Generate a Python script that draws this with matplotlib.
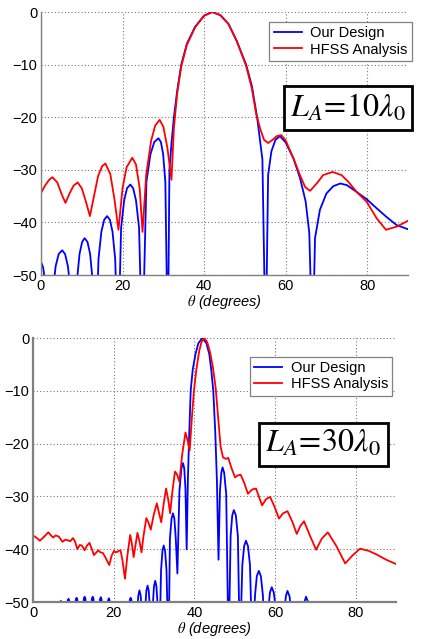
import numpy as np
import matplotlib
matplotlib.use('Agg')
import matplotlib.pyplot as plt

plt.rcParams['font.family'] = ['Liberation Sans', 'DejaVu Sans']
plt.rcParams['mathtext.fontset'] = 'stix'

# L_A = 10 lambda_0 : (theta in degrees, dB)
design_10 = [(0, -47.5), (0.5, -48.5), (1.0, -51), (2.1, -65),
             (2.85, -53.6), (3.6, -48.3), (4.35, -46), (5.2, -45.3), (5.9, -46), (6.6, -48.3), (7.35, -53.6), (8.1, -65),
             (8.8, -51.3), (9.45, -46), (10.1, -43.7), (10.7, -43), (11.4, -43.7), (12.05, -46), (12.7, -51.3), (13.4, -65),
             (14.1, -47), (14.8, -41.8), (15.5, -39.5), (16.2, -38.8), (16.9, -39.5), (17.55, -41.8), (18.2, -47), (18.9, -65),
             (19.65, -41), (20.4, -35.8), (21.1, -33.5), (21.9, -32.8), (22.6, -33.5), (23.3, -35.8), (24.05, -41), (24.85, -65),
             (25.85, -32.3), (26.85, -27), (27.8, -24.7), (28.8, -24), (29.4, -24.7), (29.95, -27), (30.5, -32.3), (31.1, -65),
             (31.5, -30), (32.0, -25), (32.6, -20), (33.4, -15), (34.4, -10), (35.8, -6), (37.8, -2.8), (40.0, -0.7),
             (42.0, 0), (44.0, -0.6), (46.0, -2.3), (48.0, -5.5), (50.3, -10), (51.7, -14), (53.0, -20), (54.3, -28), (55.1, -65),
             (55.7, -31), (56.5, -26.5), (57.5, -24.3), (58.6, -23.6), (60.0, -24.8), (61.9, -27.8), (63.5, -31.5),
             (64.9, -36), (65.8, -42), (66.6, -65),
             (67.2, -43), (68.4, -37.6), (70.0, -34.5), (71.7, -33.1), (73.4, -32.6), (75.0, -32.9), (77.4, -34.2),
             (79.9, -35.6), (82.3, -37.3), (84.8, -39), (87.2, -40.5), (90.0, -41.3)]

hfss_10 = [(0, -34.4), (1, -33), (2, -31.9), (2.8, -31.4), (4, -32.4), (5, -34.5), (6, -36.3), (7, -34.5),
           (8, -33), (9, -32.4), (10, -33.5), (11, -36), (12, -38.8), (13, -35), (14, -31.2), (15, -29.3),
           (15.8, -28.8), (17, -30.8), (18, -35.5), (19, -41.4), (20, -33.5), (21, -29.5), (22.4, -27.7),
           (23.3, -29), (24.2, -33.5), (24.9, -41.8), (25.8, -31), (27, -24.5), (28, -21.6), (29.1, -20.5),
           (30, -21.8), (31, -25.8), (32, -31.9), (32.6, -22), (33.4, -15.5), (34.4, -10.3), (35.8, -6.2),
           (37.8, -2.9), (40, -0.7), (42, 0), (44, -0.6), (46, -2.3), (48, -5.5), (50.3, -10.2), (51.7, -14.5),
           (52.8, -19.5), (53.8, -22.3), (54.7, -24.3), (55.7, -24.9), (56.8, -24.3), (57.8, -23.6), (58.9, -23.4),
           (60, -24.4), (61.9, -27.8), (63.5, -31), (64.8, -33.3), (66, -34), (67.6, -32.6), (69.2, -31),
           (71.5, -30.4), (73.7, -31), (75.4, -32.3), (77.4, -34.2), (79.9, -36.1), (82.3, -39.2), (84.6, -41.4),
           (87.2, -40.8), (90, -39.7)]

# L_A = 30 lambda_0
design_30 = [(0, -60), (6.45, -53), (6.7, -50.2), (6.9, -49.8), (7.1, -50.2), (7.35, -53), (7.85, -60),
             (8.35, -53), (8.6, -49.8), (8.8, -49.4), (9.0, -49.8), (9.25, -53), (9.8, -60),
             (10.35, -53), (10.6, -49.6), (10.8, -49.2), (11.0, -49.6), (11.25, -53), (11.8, -60),
             (12.35, -53), (12.6, -49.4), (12.8, -49.0), (13.0, -49.4), (13.25, -53), (13.8, -60),
             (14.35, -53), (14.6, -49.4), (14.8, -49.0), (15.0, -49.4), (15.25, -53), (15.8, -60),
             (16.35, -53), (16.6, -49.5), (16.8, -49.1), (17.0, -49.5), (17.25, -53), (17.8, -60),
             (18.35, -53), (18.6, -49.7), (18.8, -49.3), (19.0, -49.7), (19.25, -53), (19.8, -60),
             (23.2, -60), (23.75, -53), (24.0, -49.6), (24.2, -49.2), (24.4, -49.6), (24.65, -53), (25.3, -60),
             (25.8, -52.4), (26.1, -48.8), (26.4, -47.8), (26.7, -48.8), (27.0, -52.4), (27.4, -60),
             (27.8, -51.5), (28.1, -47.9), (28.4, -46.9), (28.7, -47.9), (29.0, -51.5), (29.35, -60),
             (29.7, -50.6), (30.0, -47), (30.3, -46), (30.6, -47), (30.9, -50.6), (31.3, -60),
             (31.75, -44), (32.1, -40.3), (32.4, -39.3), (32.75, -40.3), (33.1, -44), (33.6, -60),
             (33.95, -38), (34.35, -34.2), (34.7, -33.2), (35.05, -34.2), (35.4, -38), (35.8, -44.6),
             (36.3, -29), (36.8, -24.7), (37.2, -23.7), (37.5, -24.7), (37.8, -28.5), (38.1, -40),
             (38.4, -27), (38.7, -19), (39.1, -10), (39.6, -6), (40.3, -3), (41.0, -1), (42.0, 0), (43.0, -1),
             (43.7, -3), (44.2, -6), (44.7, -10), (45.2, -18), (45.6, -27), (46.0, -42),
             (46.35, -29), (46.7, -25.5), (47.0, -24.5), (47.4, -25.5), (47.9, -29.5), (48.5, -60),
             (49.0, -37.5), (49.4, -33.6), (49.8, -32.6), (50.3, -33.6), (50.8, -37.5), (51.3, -60),
             (51.9, -43), (52.35, -39.4), (52.8, -38.4), (53.3, -39.4), (53.8, -43), (54.4, -60),
             (55.05, -48.7), (55.5, -45.1), (56.0, -44.1), (56.5, -45.1), (57.0, -48.7), (57.6, -60),
             (58.3, -51.8), (58.75, -48.2), (59.2, -47.2), (59.7, -48.2), (60.3, -51.8), (61.1, -60),
             (62.2, -52.5), (62.7, -48.9), (63.1, -47.9), (63.6, -48.9), (64.2, -52.5), (65.3, -60),
             (66.8, -53.6), (67.3, -50), (67.7, -49), (68.2, -50), (68.8, -53.6), (70, -60), (90, -60)]

hfss_30 = [(0, -37.4), (0.8, -37.8), (1.7, -38.4), (2.8, -37.6), (3.8, -36.8), (4.6, -37.5), (5.0, -37.8),
           (5.6, -37.4), (6.4, -37.6), (7.3, -38.6), (8.0, -38.2), (8.6, -38.3), (9.2, -38.5), (9.9, -37.9),
           (10.4, -38.5), (11.0, -40), (11.6, -39.2), (12.1, -39.3), (12.8, -40.2), (13.4, -39.3), (14.0, -38.8),
           (14.5, -39.8), (15.1, -41.1), (15.6, -40.7), (16.2, -40.2), (16.7, -40.6), (17.3, -40.7), (17.9, -41.5),
           (18.9, -43), (19.5, -41.2), (20.1, -40.3), (20.5, -40.6), (20.9, -40.5), (21.3, -40.3), (21.7, -40.2),
           (22.2, -42.2), (22.8, -45.6), (23.4, -41.2), (24.1, -37.3), (24.5, -38.9), (24.95, -41.5), (25.4, -39.3),
           (25.9, -36.9), (26.4, -38.5), (26.9, -40.6), (27.4, -37.5), (28.1, -34.1), (28.6, -34.9), (29.2, -36.3),
           (29.9, -33.6), (30.7, -31.3), (31.2, -33), (31.8, -34.9), (32.4, -31.4), (33.0, -28.5), (33.5, -30.5),
           (34.0, -33.2), (34.6, -28.8), (35.2, -25.3), (35.7, -25.8), (36.3, -27.2), (37.0, -22), (37.8, -17.9),
           (38.3, -19.3), (38.85, -21.3), (39.4, -15), (39.9, -10), (40.5, -6), (41.2, -2.5), (41.8, -0.7),
           (42.5, 0), (43.2, -0.8), (43.9, -2.7), (44.6, -5.5), (45.3, -9.5), (45.9, -15), (46.5, -20.5),
           (47.1, -22.6), (47.8, -22.9), (48.4, -22.7), (49.3, -24.8), (50.1, -26.4), (50.8, -26.0), (51.5, -25.9),
           (52.4, -27.5), (53.3, -29.5), (54.3, -28.7), (55.3, -28.5), (56.0, -30), (56.8, -31.7), (57.8, -30.5),
           (58.8, -30.1), (59.9, -32), (61.0, -34.2), (62.0, -33.2), (63.1, -32.8), (64.3, -34.8), (65.4, -37.1),
           (66.3, -35.6), (67.2, -34.7), (68.7, -37.5), (70.2, -40.1), (71.6, -38), (73.1, -36.8), (75.3, -39.5),
           (77.4, -42.7), (79.2, -41.2), (81.1, -39.9), (83.2, -40.3), (85.2, -41), (87.6, -42), (90, -42.8)]

x_ticks = [0, 20, 40, 60, 80]
y_ticks = [0, -10, -20, -30, -40, -50]
labels = ['Our Design', 'HFSS Analysis']
titles = [r'$L_A\!=\!\mathit{10}\lambda_{\mathit{0}}$', r'$L_A\!=\!\mathit{30}\lambda_{\mathit{0}}$']

fig = plt.figure(figsize=(4.26, 6.39), dpi=100)
ax1 = fig.add_axes([0.0962, 0.5696, 0.8615, 0.4116])
ax2 = fig.add_axes([0.0775, 0.0579, 0.852, 0.4131])

panels = [(ax1, design_10, hfss_10, titles[0], (1.011, 0.962), (0.8365, 0.634), 1.0),
          (ax2, design_30, hfss_30, titles[1], (0.99, 0.929), (0.800, 0.598), 1.6)]

for ax, des, hf, ttl, leg_pos, txt_pos, spine_w in panels:
    d = np.array(des)
    h = np.array(hf)
    ax.plot(d[:, 0], d[:, 1], color='#0000ff', lw=1.3, label=labels[0])
    ax.plot(h[:, 0], h[:, 1], color='#ff0000', lw=1.3, label=labels[1])
    ax.set_xlim(0, 90)
    ax.set_ylim(-50, 0)
    ax.set_xticks(x_ticks)
    ax.set_yticks(y_ticks)
    ax.grid(True, color='#777777', linestyle=(0, (1, 2)), lw=0.8)
    ax.tick_params(length=0, labelsize=10.5)
    ax.tick_params(axis='x', pad=3)
    ax.tick_params(axis='y', pad=2.5)
    for s in ['top', 'right']:
        ax.spines[s].set_visible(False)
    for s in ['left', 'bottom']:
        ax.spines[s].set_color('#808080')
        ax.spines[s].set_linewidth(spine_w)
    ax.set_xlabel(r'$\theta$ (degrees)', fontstyle='italic', fontsize=10.5, labelpad=0)
    leg = ax.legend(loc='upper right', bbox_to_anchor=leg_pos, borderaxespad=0, fontsize=10.5,
                    fancybox=False, framealpha=1, edgecolor='#808080', handlelength=1.9,
                    handletextpad=0.6, labelspacing=0.15, borderpad=0.3)
    leg.get_frame().set_linewidth(0.9)
    ax.text(txt_pos[0], txt_pos[1], ttl, transform=ax.transAxes, ha='center', va='center',
            fontsize=23, bbox=dict(boxstyle='square,pad=0.2', facecolor='white', edgecolor='black', lw=2))

fig.savefig('out.png', dpi=100)
